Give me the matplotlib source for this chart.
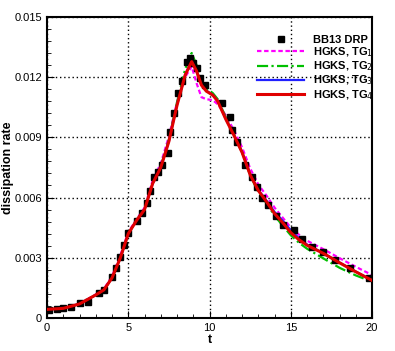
import numpy as np
import matplotlib.pyplot as plt
from matplotlib.ticker import MultipleLocator, FuncFormatter

plt.rcParams['font.family'] = ['Liberation Sans', 'DejaVu Sans']

# BB13 DRP reference points
t_ref = [0.14, 0.6, 1.0, 1.48, 2.03, 2.54, 3.18, 3.51, 3.98, 4.23, 4.49, 4.74,
         5.0, 5.52, 5.83, 6.13, 6.34, 6.58, 6.85, 7.06, 7.43, 7.57, 7.84, 8.08,
         8.33, 8.6, 8.8, 9.0, 9.2, 9.42, 9.72, 10.75, 11.26, 11.36, 11.67, 12.18,
         12.6, 12.9, 13.21, 13.62, 14.1, 14.54, 15.17, 15.7, 16.29, 17.0, 17.72,
         18.65, 19.78]
e_ref = [0.00040, 0.00043, 0.00048, 0.00056, 0.00073, 0.00080, 0.00123, 0.00140,
         0.00203, 0.00248, 0.00302, 0.00364, 0.00422, 0.00485, 0.00522, 0.00572,
         0.00634, 0.00701, 0.00729, 0.00762, 0.00821, 0.00928, 0.01020, 0.01120,
         0.01178, 0.01277, 0.01294, 0.01270, 0.01244, 0.01194, 0.01161, 0.01070,
         0.01003, 0.00937, 0.00879, 0.00762, 0.00704, 0.00654, 0.00596, 0.00563,
         0.00510, 0.00463, 0.00438, 0.00395, 0.00355, 0.00330, 0.00289, 0.00248,
         0.00198]

t_tg = [0, 1, 2, 3, 3.5, 4, 4.5, 5, 5.5, 6, 6.5, 7, 7.5, 8, 8.5, 8.9, 9.2, 9.5,
        9.8, 10.2, 10.5, 11, 11.5, 12, 12.5, 13, 13.5, 14, 14.5, 15, 15.5, 16,
        17, 18, 19, 20]

e_tg1 = [0.00043, 0.00048, 0.00071, 0.00117, 0.00145, 0.00208, 0.00310, 0.00428,
         0.00490, 0.00550, 0.00685, 0.00770, 0.00905, 0.01075, 0.01200, 0.01253,
         0.01170, 0.01100, 0.01090, 0.01085, 0.01065, 0.01010, 0.00935, 0.00850,
         0.00745, 0.00665, 0.00610, 0.00550, 0.00500, 0.00450, 0.00415, 0.00385,
         0.00343, 0.00298, 0.00255, 0.00214]
e_tg2 = [0.00043, 0.00048, 0.00070, 0.00115, 0.00140, 0.00200, 0.00297, 0.00420,
         0.00486, 0.00542, 0.00672, 0.00755, 0.00890, 0.01075, 0.01240, 0.01320,
         0.01260, 0.01175, 0.01145, 0.01120, 0.01090, 0.01000, 0.00915, 0.00825,
         0.00710, 0.00628, 0.00572, 0.00510, 0.00460, 0.00412, 0.00375, 0.00345,
         0.00297, 0.00250, 0.00212, 0.00181]
e_tg3 = [0.00043, 0.00048, 0.00070, 0.00115, 0.00140, 0.00200, 0.00297, 0.00420,
         0.00485, 0.00540, 0.00670, 0.00750, 0.00882, 0.01062, 0.01212, 0.01280,
         0.01232, 0.01162, 0.01132, 0.01112, 0.01082, 0.00992, 0.00912, 0.00828,
         0.00716, 0.00638, 0.00585, 0.00528, 0.00485, 0.00437, 0.00398, 0.00366,
         0.00323, 0.00276, 0.00231, 0.00188]
e_tg4 = [0.00043, 0.00048, 0.00070, 0.00115, 0.00140, 0.00200, 0.00297, 0.00420,
         0.00485, 0.00540, 0.00670, 0.00750, 0.00880, 0.01060, 0.01210, 0.01277,
         0.01230, 0.01160, 0.01130, 0.01110, 0.01080, 0.00990, 0.00910, 0.00825,
         0.00713, 0.00635, 0.00580, 0.00520, 0.00475, 0.00425, 0.00390, 0.00362,
         0.00322, 0.00275, 0.00230, 0.00187]

fig = plt.figure(figsize=(3.95, 3.51), dpi=100)
ax = fig.add_axes([0.119, 0.094, 0.823, 0.858])

ax.plot(t_ref, e_ref, 's', color='black', markersize=4, label='BB13 DRP', zorder=3)
ax.plot(t_tg, e_tg1, color='#ff00ff', lw=1.6, ls=(0, (2, 1.2)), label='HGKS, TG$_1$')
ax.plot(t_tg, e_tg2, color='#00c000', lw=1.6, ls=(0, (5, 1.5, 1, 1.5)), label='HGKS, TG$_2$')
ax.plot(t_tg, e_tg3, color='#2020ff', lw=1.6, label='HGKS, TG$_3$')
ax.plot(t_tg, e_tg4, color='#e00000', lw=2.2, label='HGKS, TG$_4$', zorder=4)

ax.set_xlim(0, 20)
ax.set_ylim(0, 0.015)
ax.xaxis.set_major_locator(MultipleLocator(5))
ax.xaxis.set_minor_locator(MultipleLocator(1))
ax.yaxis.set_major_locator(MultipleLocator(0.003))
ax.yaxis.set_minor_locator(MultipleLocator(0.0006))
ax.yaxis.set_major_formatter(FuncFormatter(lambda v, p: '0' if abs(v) < 1e-9 else f'{v:.3f}'))
ax.tick_params(which='both', direction='in', labelsize=8, top=False, right=False)
ax.tick_params(which='major', length=5)
ax.tick_params(which='minor', length=3)
ax.grid(True, which='major', color='black', ls=(0, (1, 2)), lw=1)
for s in ax.spines.values():
    s.set_linewidth(1.5)

ax.set_xlabel('t', fontsize=9, fontweight='bold', labelpad=1)
ax.set_ylabel('dissipation rate', fontsize=9, fontweight='bold')
ax.yaxis.set_label_coords(-0.1, 0.5)

leg = ax.legend(loc='upper left', bbox_to_anchor=(0.645, 0.94), frameon=False,
                prop={'weight': 'bold', 'size': 8}, handlelength=4.3, handletextpad=0.8,
                labelspacing=0.05, borderpad=0, borderaxespad=0)

fig.savefig('out.png', dpi=100)
